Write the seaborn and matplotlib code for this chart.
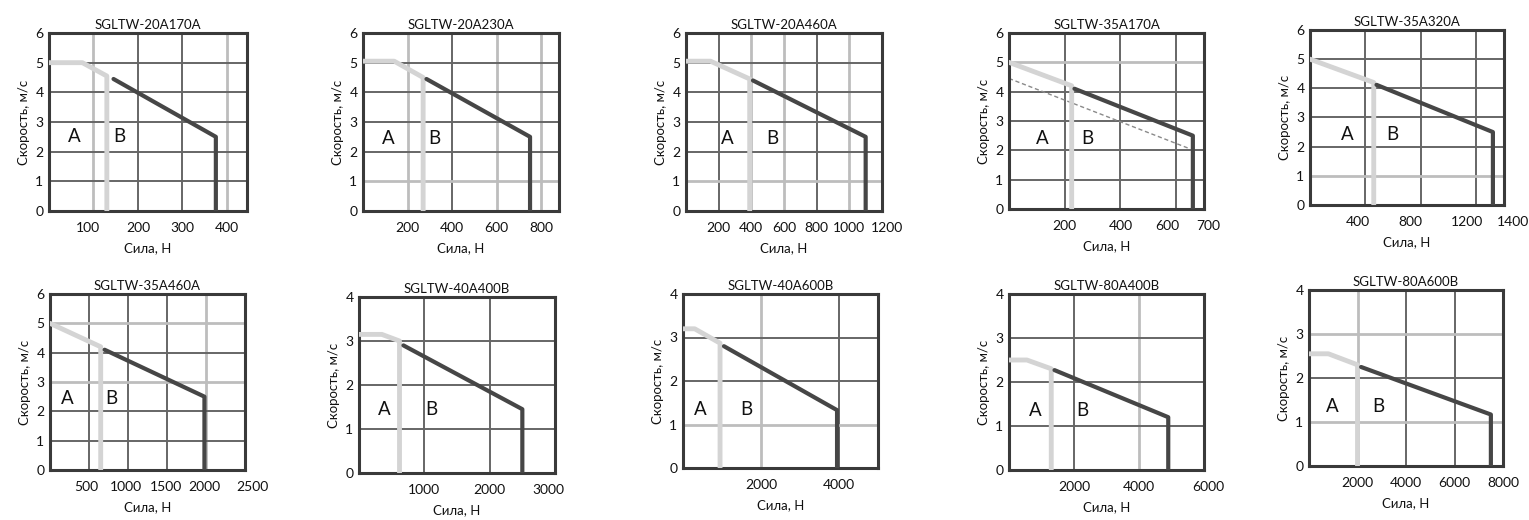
import matplotlib
matplotlib.use("Agg")
import matplotlib.pyplot as plt
import matplotlib.transforms as mtransforms
import pandas as pd
import seaborn as sns

# ---- data: force/speed characteristics of SGLTW linear motors ----
titles = ["SGLTW-20A170A", "SGLTW-20A230A", "SGLTW-20A460A", "SGLTW-35A170A", "SGLTW-35A320A",
          "SGLTW-35A460A", "SGLTW-40A400B", "SGLTW-40A600B", "SGLTW-80A400B", "SGLTW-80A600B"]

x_max = [445, 880, 1200, 700, 1400, 2500, 3000, 5000, 6000, 8000]
y_max = [6, 6, 6, 6, 6, 6, 4, 4, 4, 4]

x_ticks = [[100, 200, 300, 400], [200, 400, 600, 800], [200, 400, 600, 800, 1000, 1200],
           [200, 400, 600, 700], [400, 800, 1200, 1400], [500, 1000, 1500, 2000, 2500],
           [1000, 2000, 3000], [2000, 4000], [2000, 4000, 6000], [2000, 4000, 6000, 8000]]

# zone A (continuous duty) boundary
zone_a_force = [[0, 75, 130, 130], [0, 140, 270, 270], [0, 150, 390, 390], [0, 225, 225],
                [0, 460, 460], [0, 650, 650], [0, 350, 620, 620], [0, 300, 950, 950],
                [0, 550, 1300, 1300], [0, 800, 2000, 2000]]
zone_a_speed = [[5.0, 5.0, 4.55, 0], [5.05, 5.05, 4.5, 0], [5.05, 5.05, 4.45, 0], [5.0, 4.2, 0],
                [5.0, 4.2, 0], [5.0, 4.2, 0], [3.15, 3.15, 3.0, 0], [3.2, 3.2, 2.87, 0],
                [2.5, 2.5, 2.3, 0], [2.55, 2.55, 2.3, 0]]

# zone B (intermittent duty) boundary
zone_b_force = [[145, 375, 375], [285, 750, 750], [410, 1100, 1100], [235, 660, 660],
                [480, 1320, 1320], [700, 1980, 1980], [680, 2500, 2500], [1050, 3950, 3950],
                [1400, 4900, 4900], [2150, 7500, 7500]]
zone_b_speed = [[4.45, 2.5, 0], [4.45, 2.5, 0], [4.4, 2.5, 0], [4.1, 2.5, 0],
                [4.12, 2.5, 0], [4.1, 2.5, 0], [2.9, 1.45, 0], [2.8, 1.33, 0],
                [2.27, 1.2, 0], [2.25, 1.17, 0]]

# dashed reference line on SGLTW-35A170A
dashed_force = [0, 650]
dashed_speed = [4.45, 2.05]

# ---- layout ----
W, H = 1529, 520
# axes boxes in pixels: left, right, top, bottom
boxes = [(49, 247, 33, 211), (363, 559, 33, 211), (686, 882, 33, 211), (1009, 1204, 33, 209),
         (1310, 1504, 30, 205), (50, 245, 294, 470), (359, 555, 297, 473), (683, 878, 294, 468),
         (1009, 1204, 294, 470), (1309, 1503, 290, 466)]
letter_pos = [((56, 2.5), (158, 2.5)), ((112, 2.45), (319, 2.45)), ((255, 2.45), (527, 2.45)),
              ((118, 2.4), (282, 2.4)), ((271, 2.4), (593, 2.4)), ((225, 2.45), (790, 2.45)),
              ((394, 1.45), (1106, 1.45)), ((455, 1.35), (1620, 1.35)), ((800, 1.36), (2250, 1.36)),
              ((960, 1.36), (2880, 1.36))]
# horizontal nudges (pixels) for crowded x tick labels: panel -> {tick index: dx}
tick_nudge = {0: {0: -6}, 2: {5: 5}, 3: {2: -9, 3: 4}, 4: {0: -8, 1: -10, 2: -9, 3: 9},
              5: {0: -3, 1: -2, 2: -1, 3: -2, 4: 7}, 6: {2: -7}, 8: {2: 4}}
# grid lines printed in a paler grey
pale_grid = [[("x", 100), ("x", 400)], [("x", 200), ("x", 600), ("x", 800), ("y", 1)],
             [("x", 400), ("x", 600), ("x", 1000), ("y", 1)], [("y", 5)], [("y", 1)],
             [("y", 5), ("y", 3), ("x", 2000)], [], [("x", 2000), ("y", 1)], [("x", 4000)],
             [("y", 3), ("y", 1), ("x", 2000)]]

sns.set_theme(style="white")
plt.rcParams["font.family"] = ["Lato", "DejaVu Sans"]

LIGHT = "#d4d4d4"
DARK = "#464646"
GRID = "#666666"
PALE = "#bdbdbd"
SPINE = "#3a3a3a"
TEXT = "#111111"

fig = plt.figure(figsize=(W / 100, H / 100), dpi=100)
fig.patch.set_facecolor("white")

for i, title in enumerate(titles):
    l, r, t, b = boxes[i]
    ax = fig.add_axes([l / W, 1 - b / H, (r - l) / W, (b - t) / H])
    ax.set_xlim(0, x_max[i])
    ax.set_ylim(0, y_max[i])
    ax.set_xticks(x_ticks[i])
    ax.set_yticks(range(0, y_max[i] + 1))

    pale = pale_grid[i]
    for v in x_ticks[i]:
        is_pale = ("x", v) in pale
        ax.axvline(v, color=PALE if is_pale else GRID, lw=2.0 if is_pale else 1.4, zorder=1)
    for v in range(1, y_max[i]):
        is_pale = ("y", v) in pale
        ax.axhline(v, color=PALE if is_pale else GRID, lw=2.0 if is_pale else 1.4, zorder=1)

    if i == 3:
        dd = pd.DataFrame({"force": dashed_force, "speed": dashed_speed})
        sns.lineplot(data=dd, x="force", y="speed", ax=ax, color="#8a8a8a", lw=1.0,
                     linestyle=(0, (3, 2)), sort=False, estimator=None, zorder=2)

    da = pd.DataFrame({"force": zone_a_force[i], "speed": zone_a_speed[i]})
    db = pd.DataFrame({"force": zone_b_force[i], "speed": zone_b_speed[i]})
    sns.lineplot(data=da, x="force", y="speed", ax=ax, color=LIGHT, lw=3.5,
                 sort=False, estimator=None, zorder=3)
    sns.lineplot(data=db, x="force", y="speed", ax=ax, color=DARK, lw=3.0,
                 sort=False, estimator=None, zorder=4)

    (ax_, ay_), (bx_, by_) = letter_pos[i]
    ax.text(ax_, ay_, "A", fontsize=13.5, ha="center", va="center", color=TEXT)
    ax.text(bx_, by_, "B", fontsize=13.5, ha="center", va="center", color=TEXT)

    for s in ax.spines.values():
        s.set_visible(True)
        s.set_color(SPINE)
        s.set_linewidth(2.2)
    ax.tick_params(length=0, labelsize=10, colors=TEXT)
    ax.tick_params(axis="x", pad=8)
    ax.tick_params(axis="y", pad=4)

    ticks = ax.xaxis.get_major_ticks()
    for k, dx in tick_nudge.get(i, {}).items():
        lbl = ticks[k].label1
        lbl.set_transform(lbl.get_transform() +
                          mtransforms.ScaledTranslation(dx / 100, 0, fig.dpi_scale_trans))

    ax.set_title(title, fontsize=9.5, pad=3, color=TEXT)
    ax.set_xlabel("Сила, Н", fontsize=9.5, labelpad=6, color=TEXT)
    ax.set_ylabel("Скорость, м/с", fontsize=9.5, labelpad=4, color=TEXT)

fig.savefig("out.png", dpi=100, facecolor="white")
